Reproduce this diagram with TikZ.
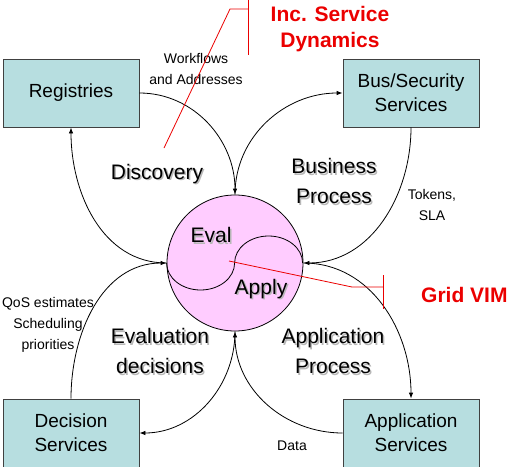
\documentclass[tikz,border=0pt]{standalone}
\usepackage{fontspec}
\setmainfont{Liberation Sans}
\usetikzlibrary{arrows.meta}
\definecolor{boxfill}{RGB}{183,222,224}
\definecolor{evalfill}{RGB}{255,204,255}
\definecolor{calred}{RGB}{235,0,0}
\begin{document}
\begin{tikzpicture}[x=1pt,y=1pt,
  svcbox/.style={draw=black!75, fill=boxfill, minimum width=136pt, minimum height=68pt, inner sep=0pt, align=center, font=\fontsize{19}{24}\selectfont, line width=0.8pt},
  flow/.style={-{Latex[length=6pt,width=4.5pt]}, line width=0.8pt},
  biglbl/.style={align=center, inner sep=0pt, font=\fontsize{21}{30}\selectfont},
  shadowlbl/.style={biglbl, text=black!28},
  smalllbl/.style={align=center, inner sep=0pt, font=\fontsize{14}{21}\selectfont},
  redlbl/.style={align=center, inner sep=0pt, text=calred, font=\bfseries\fontsize{21}{26}\selectfont},
  callout/.style={draw=calred, line width=0.8pt}]
\useasboundingbox (0,0) rectangle (508,-466);
\clip (0,0) rectangle (508,-466);

% boxes
\node[svcbox] (reg) at (71,-93) {Registries};
\node[svcbox] (bus) at (411,-93) {Bus/Security\\Services};
\node[svcbox] (dec) at (71,-433) {Decision\\Services};
\node[svcbox] (app) at (411,-433) {Application\\Services};

% central circle
\node[circle, draw, fill=evalfill, minimum size=136pt, inner sep=0pt, line width=0.8pt] (ev) at (235,-263) {};
\draw[line width=0.8pt] (ev.west) arc[start angle=180,end angle=360,x radius=34,y radius=27]
  arc[start angle=180,end angle=0,x radius=34,y radius=27];

% labels with shadow
\node[shadowlbl] (evalS) at (212.5,-236.5) {Eval};
\node[biglbl] (evaltxt) at (211,-235) {Eval};
\node[shadowlbl] (applyS) at (262.5,-290.5) {Apply};
\node[biglbl] (applytxt) at (261,-289) {Apply};

\node[shadowlbl] (discS) at (158.5,-175.5) {Discovery};
\node[biglbl] (disc) at (157,-174) {Discovery};
\node[shadowlbl] (busprS) at (335.5,-182.5) {Business\\Process};
\node[biglbl] (buspr) at (334,-181) {Business\\Process};
\node[shadowlbl] (evdecS) at (161.5,-352.5) {Evaluation\\decisions};
\node[biglbl] (evdec) at (160,-351) {Evaluation\\decisions};
\node[shadowlbl] (appprS) at (334.5,-352.5) {Application\\Process};
\node[biglbl] (apppr) at (333,-351) {Application\\Process};

% small labels
\node[smalllbl] (wf) at (196,-69) {Workflows\\and Addresses};
\node[smalllbl] (tok) at (432,-205) {Tokens,\\SLA};
\node[smalllbl] (qos) at (48,-325) {QoS estimates\\Scheduling\\priorities};
\node[smalllbl] (data) at (292,-446) {Data};

% connectors
\draw[flow] (reg.east) to[out=0,in=90] (ev.north);
\draw[flow] (ev.north) to[out=90,in=180] (bus.west);
\draw[flow] (bus.south) to[out=-90,in=0] (ev.east);
\draw[flow] (ev.east) to[out=0,in=90] (app.north);
\draw[flow] (app.west) to[out=180,in=-90] (ev.south);
\draw[flow] (ev.south) to[out=-90,in=0] (dec.east);
\draw[flow] (dec.north) to[out=90,in=180] (ev.west);
\draw[flow] (ev.west) to[out=180,in=-90] (reg.south);

% red callouts
\node[redlbl] (inc) at (330,-29) {Inc. Service\\Dynamics};
\node[redlbl, anchor=west] (grid) at (421,-295) {Grid VIM};
\coordinate (incA) at (164,-148);
\coordinate (incB) at (230,-9);
\coordinate (incC) at (248,-9);
\coordinate (incT) at (248,40);
\coordinate (incD) at (248,-55);
\draw[callout] (incA) -- (incB) -- (incC);
\draw[callout] (incT) -- (incD);
\coordinate (gA) at (229,-261);
\coordinate (gB) at (352,-287);
\coordinate (gC) at (383,-287);
\coordinate (gT) at (383,-275);
\coordinate (gD) at (383,-309);
\draw[callout] (gA) -- (gB) -- (gC);
\draw[callout] (gT) -- (gD);
\end{tikzpicture}
\end{document}
